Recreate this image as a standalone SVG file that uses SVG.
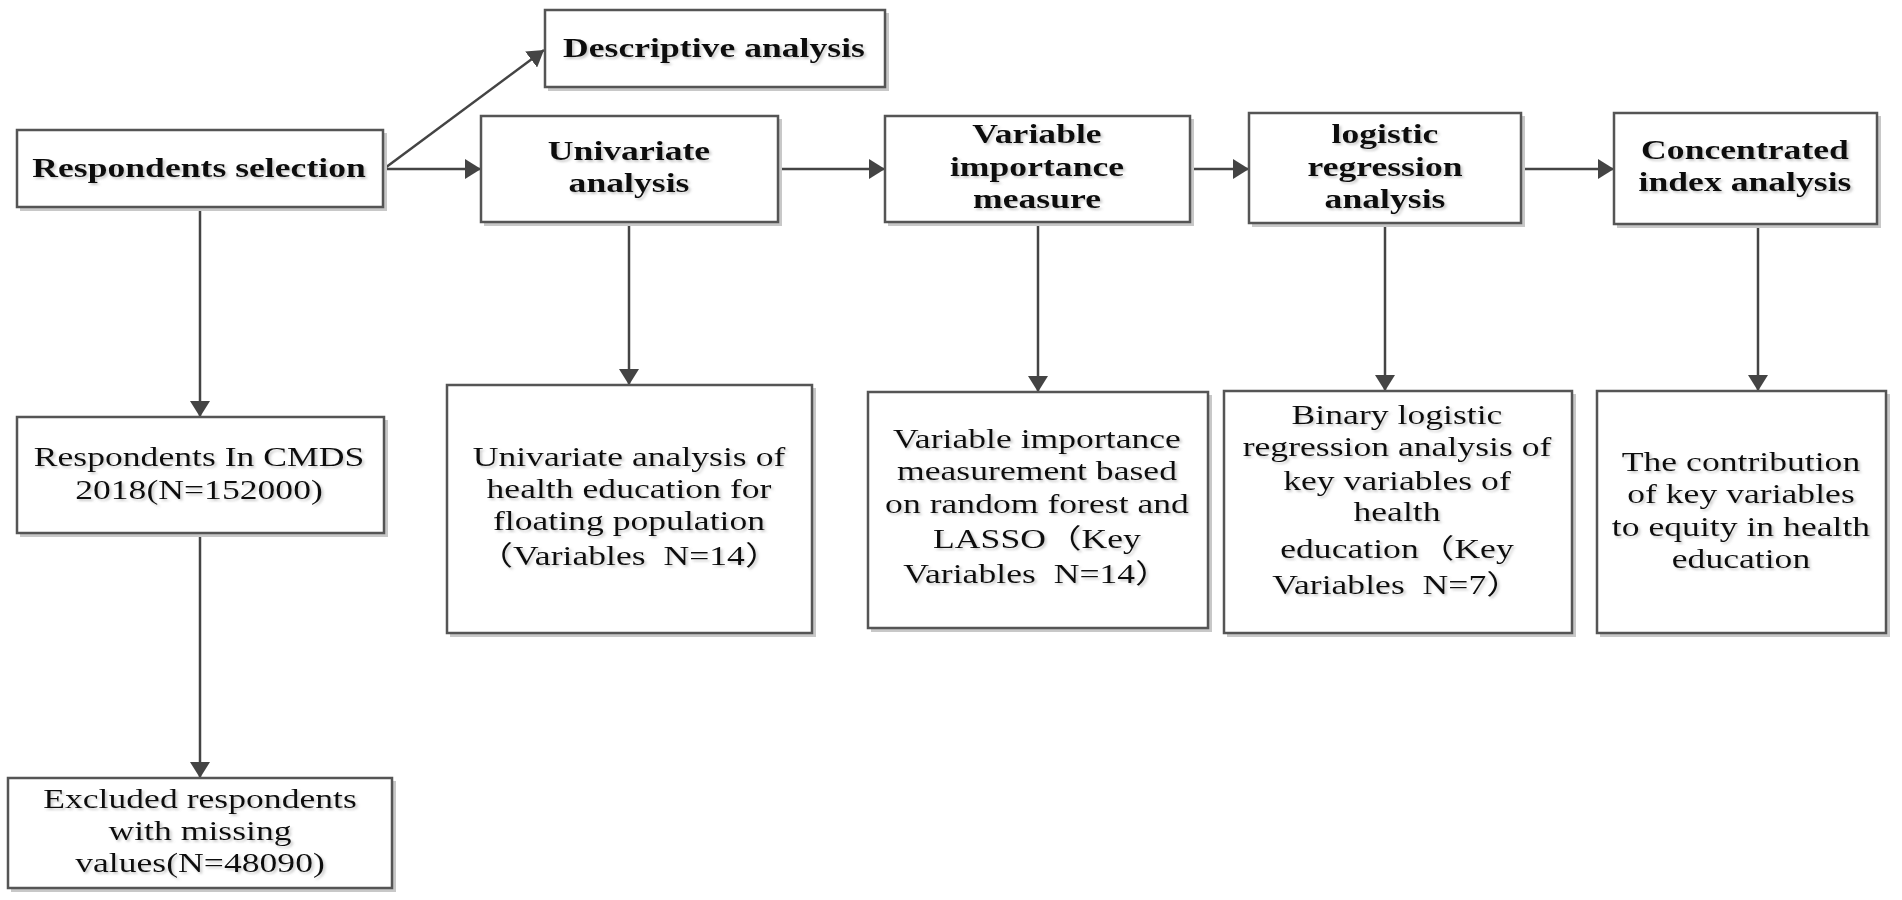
<svg xmlns="http://www.w3.org/2000/svg" width="1902" height="900" viewBox="0 0 1902 900">
<defs>
<style>
.box{fill:#fff;stroke:#555;stroke-width:2.5}
.shadow{fill:none;stroke:#c8c8c8;stroke-width:3}
.t{font-family:"Liberation Serif","Times New Roman","Noto Sans CJK SC",serif;font-size:27px;fill:#111;text-anchor:middle}
.b{font-weight:bold}
.c{fill:none;stroke:#444;stroke-width:2.5}
</style>
<marker id="ah" markerUnits="userSpaceOnUse" markerWidth="20" markerHeight="20" refX="16" refY="10" orient="auto">
<path d="M0,0 L16,10 L0,20 z" fill="#444"/>
</marker>
<filter id="ts" x="-5%" y="-20%" width="110%" height="140%">
<feDropShadow dx="1.5" dy="2" stdDeviation="1.2" flood-color="#888" flood-opacity="0.45"/>
</filter>
</defs>
<rect width="1902" height="900" fill="#fff"/>

<g id="connectors">
<line class="c" x1="385" y1="168" x2="544" y2="50" marker-end="url(#ah)"/>
<line class="c" x1="385" y1="169" x2="481" y2="169" marker-end="url(#ah)"/>
<line class="c" x1="778" y1="169" x2="885" y2="169" marker-end="url(#ah)"/>
<line class="c" x1="1190" y1="169" x2="1249" y2="169" marker-end="url(#ah)"/>
<line class="c" x1="1521" y1="169" x2="1614" y2="169" marker-end="url(#ah)"/>
<line class="c" x1="200" y1="207" x2="200" y2="417" marker-end="url(#ah)"/>
<line class="c" x1="200" y1="533" x2="200" y2="778" marker-end="url(#ah)"/>
<line class="c" x1="629" y1="222" x2="629" y2="385" marker-end="url(#ah)"/>
<line class="c" x1="1038" y1="222" x2="1038" y2="392" marker-end="url(#ah)"/>
<line class="c" x1="1385" y1="223" x2="1385" y2="391" marker-end="url(#ah)"/>
<line class="c" x1="1758" y1="227" x2="1758" y2="391" marker-end="url(#ah)"/>
</g>

<g id="n1">
<path class="shadow" d="M20,209.5 H385.5 V133"/>
<rect class="box" x="17" y="130" width="366" height="77"/>
<text class="t b" filter="url(#ts)" transform="matrix(1.32 0 0 1 199 0)"><tspan x="0" y="177">Respondents selection</tspan></text>
</g>

<g id="n2">
<path class="shadow" d="M548,89.5 H887.5 V13"/>
<rect class="box" x="545" y="10" width="340" height="77"/>
<text class="t b" filter="url(#ts)" transform="matrix(1.32 0 0 1 714 0)"><tspan x="0" y="57">Descriptive analysis</tspan></text>
</g>

<g id="n3">
<path class="shadow" d="M484,224.5 H780.5 V119"/>
<rect class="box" x="481" y="116" width="297" height="106"/>
<text class="t b" filter="url(#ts)" transform="matrix(1.32 0 0 1 629 0)"><tspan x="0" y="160">Univariate</tspan><tspan x="0" y="192">analysis</tspan></text>
</g>

<g id="n4">
<path class="shadow" d="M888,224.5 H1192.5 V119"/>
<rect class="box" x="885" y="116" width="305" height="106"/>
<text class="t b" filter="url(#ts)" transform="matrix(1.32 0 0 1 1037 0)"><tspan x="0" y="143">Variable</tspan><tspan x="0" y="176">importance</tspan><tspan x="0" y="208">measure</tspan></text>
</g>

<g id="n5">
<path class="shadow" d="M1252,225.5 H1523.5 V116"/>
<rect class="box" x="1249" y="113" width="272" height="110"/>
<text class="t b" filter="url(#ts)" transform="matrix(1.32 0 0 1 1385 0)"><tspan x="0" y="143">logistic</tspan><tspan x="0" y="176">regression</tspan><tspan x="0" y="208">analysis</tspan></text>
</g>

<g id="n6">
<path class="shadow" d="M1617,226.5 H1879.5 V116"/>
<rect class="box" x="1614" y="113" width="263" height="111"/>
<text class="t b" filter="url(#ts)" transform="matrix(1.32 0 0 1 1745 0)"><tspan x="0" y="159">Concentrated</tspan><tspan x="0" y="191">index analysis</tspan></text>
</g>

<g id="n7">
<path class="shadow" d="M20,535.5 H386.5 V420"/>
<rect class="box" x="17" y="417" width="367" height="116"/>
<text class="t" filter="url(#ts)" transform="matrix(1.32 0 0 1 199 0)"><tspan x="0" y="466">Respondents In CMDS</tspan><tspan x="0" y="499">2018(N=152000)</tspan></text>
</g>

<g id="n8">
<path class="shadow" d="M450,635.5 H814.5 V388"/>
<rect class="box" x="447" y="385" width="365" height="248"/>
<text class="t" filter="url(#ts)" xml:space="preserve" transform="matrix(1.32 0 0 1 629 0)"><tspan x="0" y="466">Univariate analysis of</tspan><tspan x="0" y="498">health education for</tspan><tspan x="0" y="530">floating population</tspan><tspan x="0" y="565">（Variables  N=14）</tspan></text>
</g>

<g id="n9">
<path class="shadow" d="M871,630.5 H1210.5 V395"/>
<rect class="box" x="868" y="392" width="340" height="236"/>
<text class="t" filter="url(#ts)" xml:space="preserve" transform="matrix(1.32 0 0 1 1037 0)"><tspan x="0" y="448">Variable importance</tspan><tspan x="0" y="480">measurement based</tspan><tspan x="0" y="513">on random forest and</tspan><tspan x="0" y="548">LASSO（Key</tspan><tspan x="0" y="583">Variables  N=14）</tspan></text>
</g>

<g id="n10">
<path class="shadow" d="M1227,635.5 H1574.5 V394"/>
<rect class="box" x="1224" y="391" width="348" height="242"/>
<text class="t" filter="url(#ts)" xml:space="preserve" transform="matrix(1.32 0 0 1 1397 0)"><tspan x="0" y="424">Binary logistic</tspan><tspan x="0" y="456">regression analysis of</tspan><tspan x="0" y="490">key variables of</tspan><tspan x="0" y="521">health</tspan><tspan x="0" y="558">education（Key</tspan><tspan x="0" y="594">Variables  N=7）</tspan></text>
</g>

<g id="n11">
<path class="shadow" d="M1600,635.5 H1888.5 V394"/>
<rect class="box" x="1597" y="391" width="289" height="242"/>
<text class="t" filter="url(#ts)" transform="matrix(1.32 0 0 1 1741 0)"><tspan x="0" y="471">The contribution</tspan><tspan x="0" y="503">of key variables</tspan><tspan x="0" y="536">to equity in health</tspan><tspan x="0" y="568">education</tspan></text>
</g>

<g id="n12">
<path class="shadow" d="M11,890.5 H394.5 V781"/>
<rect class="box" x="8" y="778" width="384" height="110"/>
<text class="t" filter="url(#ts)" transform="matrix(1.32 0 0 1 200 0)"><tspan x="0" y="808">Excluded respondents</tspan><tspan x="0" y="840">with missing</tspan><tspan x="0" y="872">values(N=48090)</tspan></text>
</g>
</svg>
